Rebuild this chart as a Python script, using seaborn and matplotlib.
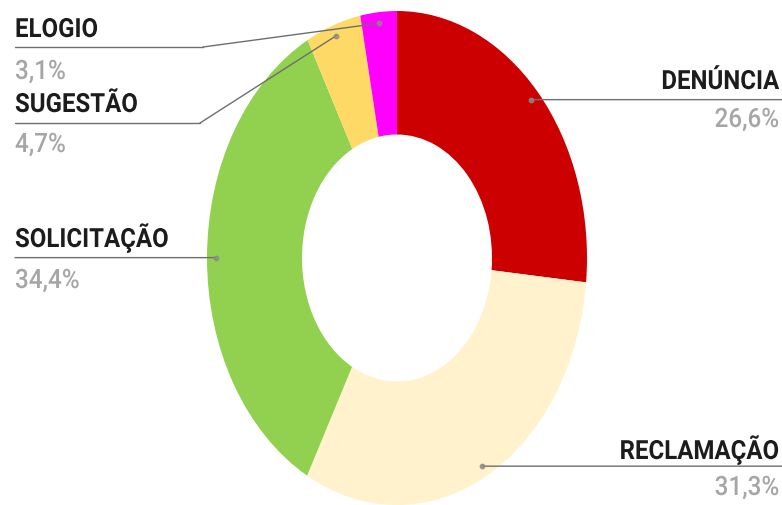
import numpy as np
import matplotlib
matplotlib.use("Agg")
import matplotlib.pyplot as plt
from matplotlib.transforms import blended_transform_factory, Affine2D
from matplotlib.patheffects import AbstractPathEffect
import seaborn as sns

# Share of records by type, clockwise from 12 o'clock
categories = ["DENÚNCIA", "RECLAMAÇÃO", "SOLICITAÇÃO", "SUGESTÃO", "ELOGIO"]
shares = [26.6, 31.3, 34.4, 4.7, 3.1]
pct_labels = ["26,6%", "31,3%", "34,4%", "4,7%", "3,1%"]
slice_colors = ["#CC0000", "#FFF2CC", "#92D050", "#FFD966", "#FF00FF"]

sns.set_theme(style="white")
plt.rcParams["font.family"] = ["Roboto", "DejaVu Sans"]

W, H = 782, 506
fig = plt.figure(figsize=(W / 100, H / 100), dpi=100)
fig.patch.set_facecolor("white")


class TallGlyphs(AbstractPathEffect):
    """Stretch glyphs vertically about the baseline (condensed look)."""

    def __init__(self, sy):
        super().__init__()
        self._sy = sy

    def draw_path(self, renderer, gc, tpath, affine, rgbFace=None):
        renderer.draw_path(gc, tpath, Affine2D().scale(1.0, self._sy) + affine, rgbFace)


tall = [TallGlyphs(1.1)]


def fpx(x, y):
    """Figure pixel position (top-left origin) -> figure fraction."""
    return x / W, 1 - y / H


# Donut axes: slightly taller than wide
ax = fig.add_axes([207 / W, 0 / H, 380 / W, 494 / H])
palette = sns.color_palette(slice_colors)
wedges, _ = ax.pie(
    shares,
    colors=palette,
    startangle=90,
    counterclock=False,
    radius=1.0,
    wedgeprops=dict(width=0.5, linewidth=0, edgecolor="white"),
)
ax.set_aspect("auto")
ax.set_xlim(-1, 1)
ax.set_ylim(-1, 1)
ax.axis("off")

# Anchor points at each slice's mid angle, near the outer rim
total = sum(shares)
cum = np.cumsum([0] + shares[:-1])
mid_frac = (cum + np.array(shares) / 2) / total
theta = 2 * np.pi * mid_frac
r_anchor = 0.955
anchors = {c: (r_anchor * np.sin(t), r_anchor * np.cos(t)) for c, t in zip(categories, theta)}
pct_of = dict(zip(categories, pct_labels))

line_col = "#6E6E6E"
name_col = "#1C1C1C"
pct_col = "#A6A6A6"
fs_name = 17.3
fs_pct = 17.5

fig_x_data_y = blended_transform_factory(fig.transFigure, ax.transData)


def dot(pt):
    ax.plot(*pt, marker="o", ms=3.2, color="#8a8a8a", alpha=0.8, clip_on=False, zorder=5)


def label(x, name_y, pct_y, cat, ha):
    fig.text(*fpx(x, name_y), cat, ha=ha, va="baseline", fontsize=fs_name,
             fontweight="bold", color=name_col, path_effects=tall)
    fig.text(*fpx(x, pct_y), pct_of[cat], ha=ha, va="baseline", fontsize=fs_pct,
             fontweight="medium", color=pct_col, path_effects=tall)


# Right side labels: horizontal leader to the figure edge
for cat, name_y, pct_y in [("DENÚNCIA", 90, 128), ("RECLAMAÇÃO", 460, 496)]:
    pt = anchors[cat]
    ax.annotate("", xy=pt, xycoords="data", xytext=(1.0, pt[1]), textcoords=fig_x_data_y,
                arrowprops=dict(arrowstyle="-", color=line_col, lw=1.0, shrinkA=0, shrinkB=0))
    dot(pt)
    label(779, name_y, pct_y, cat, "right")

# SOLICITAÇÃO: straight leader from the left margin
pt = anchors["SOLICITAÇÃO"]
ax.annotate("", xy=pt, xycoords="data", xytext=(15 / W, pt[1]), textcoords=fig_x_data_y,
            arrowprops=dict(arrowstyle="-", color=line_col, lw=1.0, shrinkA=0, shrinkB=0))
dot(pt)
label(15, 248, 289, "SOLICITAÇÃO", "left")

# Small slices at the top: elbow leaders
for cat, knee, line_y, name_y, pct_y in [
    ("ELOGIO", 203, 48, 38, 80),
    ("SUGESTÃO", 200, 124, 113, 153),
]:
    pt = anchors[cat]
    ax.annotate("", xy=pt, xycoords="data", xytext=fpx(knee, line_y), textcoords="figure fraction",
                arrowprops=dict(arrowstyle="-", color=line_col, lw=1.0, shrinkA=0, shrinkB=0))
    x0, y0 = fpx(15, line_y)
    x1, _ = fpx(knee, line_y)
    fig.add_artist(plt.Line2D([x0, x1], [y0, y0], transform=fig.transFigure, color=line_col, lw=1.0))
    dot(pt)
    label(15, name_y, pct_y, cat, "left")

fig.savefig("out.png", dpi=100, facecolor="white")
